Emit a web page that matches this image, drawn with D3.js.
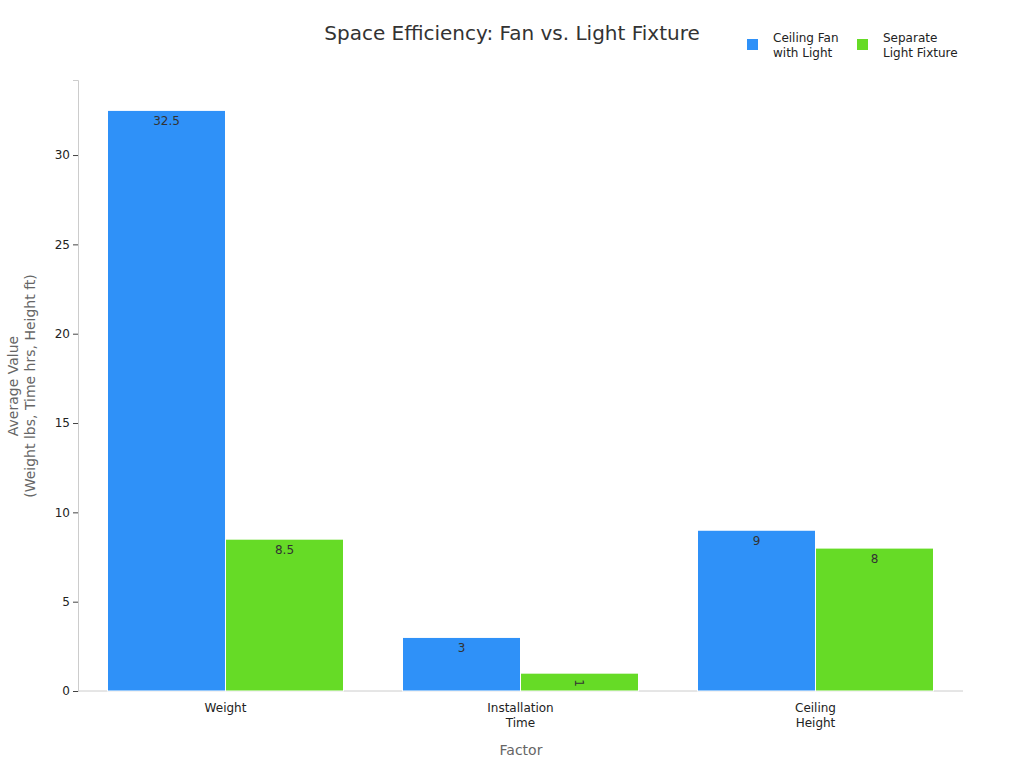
<!DOCTYPE html><html><head><meta charset="utf-8">
<script src="https://cdn.jsdelivr.net/npm/d3@7"></script>
<style>body{margin:0;background:#fff;font-family:"DejaVu Sans",sans-serif}</style></head><body>
<svg id="c" width="1024" height="768"></svg>
<script>
const categories=[["Weight"],["Installation","Time"],["Ceiling","Height"]];
const seriesNames=[["Ceiling Fan","with Light"],["Separate","Light Fixture"]];
const fanValues=[32.5,3,9];
const fixtureValues=[8.5,1,8];
const yTicks=[0,5,10,15,20,25,30];
const colors=["#2f91f8","#66db26"];
const svg=d3.select("#c");
const m={l:78,r:963,t:80,b:691};
const x=d3.scaleBand().domain(d3.range(3)).range([m.l,m.r]).paddingInner(0).paddingOuter(0);
const xs=d3.scaleBand().domain([0,1]).range([0,x.bandwidth()*0.8]);
const y=d3.scaleLinear().domain([0,34.2]).range([m.b,m.t]);
const series=[fanValues,fixtureValues];
const ax=svg.append("g").attr("transform",`translate(${m.l},0)`).call(d3.axisLeft(y).tickValues(yTicks).tickSize(5));
ax.select(".domain").attr("stroke","#ccc");ax.selectAll(".tick line").attr("stroke","#444");
ax.selectAll("text").attr("font-size",12).attr("fill","#222").attr("font-family","DejaVu Sans");
svg.append("line").attr("x1",m.l).attr("x2",m.r).attr("y1",m.b).attr("y2",m.b).attr("stroke","#ccc");
series.forEach((vals,s)=>{
 vals.forEach((v,i)=>{
  const bx=x(i)+x.bandwidth()*0.1+xs(s);
  svg.append("rect").attr("x",bx).attr("y",y(v)).attr("width",xs.bandwidth()).attr("height",y(0)-y(v)).attr("fill",colors[s]).attr("stroke","#fff").attr("stroke-width",1);
  const cx=bx+xs.bandwidth()/2;
  if(y(0)-y(v)<25){
   svg.append("text").attr("transform",`translate(${cx},${y(v)+6}) rotate(90)`).attr("font-size",12).attr("fill","#333").attr("dy","0.35em").text(v);
  } else {
   svg.append("text").attr("x",cx).attr("y",y(v)+15).attr("text-anchor","middle").attr("font-size",12).attr("fill","#333").text(v);
  }
 });
});
categories.forEach((c,i)=>{
 const t=svg.append("text").attr("x",x(i)+x.bandwidth()/2).attr("y",712).attr("text-anchor","middle").attr("font-size",12).attr("fill","#222");
 c.forEach((l,j)=>t.append("tspan").attr("x",x(i)+x.bandwidth()/2).attr("dy",j?15:0).text(l));
});
svg.append("text").attr("x",521).attr("y",755).attr("text-anchor","middle").attr("font-size",14).attr("fill","#666").text("Factor");
const yl=svg.append("text").attr("transform","translate(18,386) rotate(-90)").attr("text-anchor","middle").attr("font-size",14).attr("fill","#666");
yl.append("tspan").attr("x",0).attr("dy",0).text("Average Value");
yl.append("tspan").attr("x",0).attr("dy",17).text("(Weight lbs, Time hrs, Height ft)");
svg.append("text").attr("x",512).attr("y",40).attr("text-anchor","middle").attr("font-size",20).attr("fill","#333").text("Space Efficiency: Fan vs. Light Fixture");
const lx=[747,857];
seriesNames.forEach((n,s)=>{
 svg.append("rect").attr("x",lx[s]).attr("y",39).attr("width",11).attr("height",11).attr("fill",colors[s]);
 const t=svg.append("text").attr("x",lx[s]+26).attr("y",42).attr("font-size",12).attr("fill","#222");
 n.forEach((l,j)=>t.append("tspan").attr("x",lx[s]+26).attr("dy",j?15:0).text(l));
});
</script></body></html>
